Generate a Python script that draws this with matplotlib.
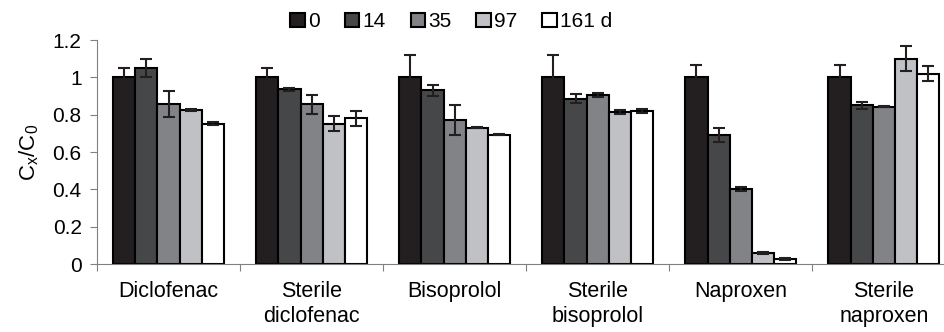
import matplotlib.pyplot as plt
import numpy as np

plt.rcParams['font.family'] = ['Liberation Sans', 'DejaVu Sans']

categories = ['Diclofenac', 'Sterile\ndiclofenac', 'Bisoprolol', 'Sterile\nbisoprolol', 'Naproxen', 'Sterile\nnaproxen']
series = ['0', '14', '35', '97', '161 d']
values = [
    [1.00, 1.00, 1.00, 1.00, 1.00, 1.00],
    [1.05, 0.935, 0.93, 0.885, 0.69, 0.85],
    [0.855, 0.855, 0.77, 0.905, 0.40, 0.842],
    [0.825, 0.752, 0.73, 0.815, 0.058, 1.10],
    [0.752, 0.78, 0.692, 0.82, 0.027, 1.02],
]
errors = [
    [0.05, 0.05, 0.12, 0.12, 0.065, 0.065],
    [0.05, 0.008, 0.03, 0.025, 0.037, 0.02],
    [0.07, 0.05, 0.08, 0.01, 0.01, 0.003],
    [0.004, 0.04, 0.003, 0.01, 0.005, 0.068],
    [0.01, 0.04, 0.003, 0.01, 0.003, 0.04],
]
colors = ['#231f20', '#454749', '#828387', '#c0c1c4', '#ffffff']

fig = plt.figure(figsize=(9.44, 3.32), dpi=100)
ax = fig.add_axes([97 / 944, 68 / 332, 847 / 944, 224 / 332])

x = np.arange(len(categories))
w = 0.155
for i, (s, v, e, c) in enumerate(zip(series, values, errors, colors)):
    pos = x + (i - 2) * w
    ax.bar(pos, v, w, color=c, edgecolor='black', linewidth=1.5, label=s, zorder=2)
    ax.errorbar(pos, v, yerr=e, fmt='none', ecolor='#231f20', elinewidth=1.5,
                capsize=4, capthick=1.5, zorder=3)

ax.set_xlim(-0.5, 5.42)
ax.set_ylim(0, 1.2)
ax.set_yticks([0, 0.2, 0.4, 0.6, 0.8, 1.0, 1.2])
ax.set_yticklabels(['0', '0.2', '0.4', '0.6', '0.8', '1', '1.2'], fontsize=15)
ax.set_xticks(np.arange(-0.5, 5.5, 1))
ax.set_xticklabels([])
ax.set_xticks(x, minor=True)
ax.set_xticklabels(categories, minor=True, fontsize=15.5, linespacing=1.3)
ax.tick_params(axis='x', which='minor', length=0, pad=12)
ax.tick_params(axis='x', which='major', length=5, color='#808080', direction='out')
ax.tick_params(axis='y', length=5, color='#808080', direction='out', pad=6)
for sp in ['top', 'right']:
    ax.spines[sp].set_visible(False)
for sp in ['left', 'bottom']:
    ax.spines[sp].set_color('#808080')
ax.set_ylabel(r'$\mathregular{C_x/C_0}$', fontsize=16, labelpad=8)

fig.legend(loc='upper center', bbox_to_anchor=(0.478, 1.02), ncol=5, frameon=False,
           fontsize=15, handlelength=0.7, handleheight=0.7, handletextpad=0.15,
           columnspacing=1.2)

fig.savefig('out.png', dpi=100)
